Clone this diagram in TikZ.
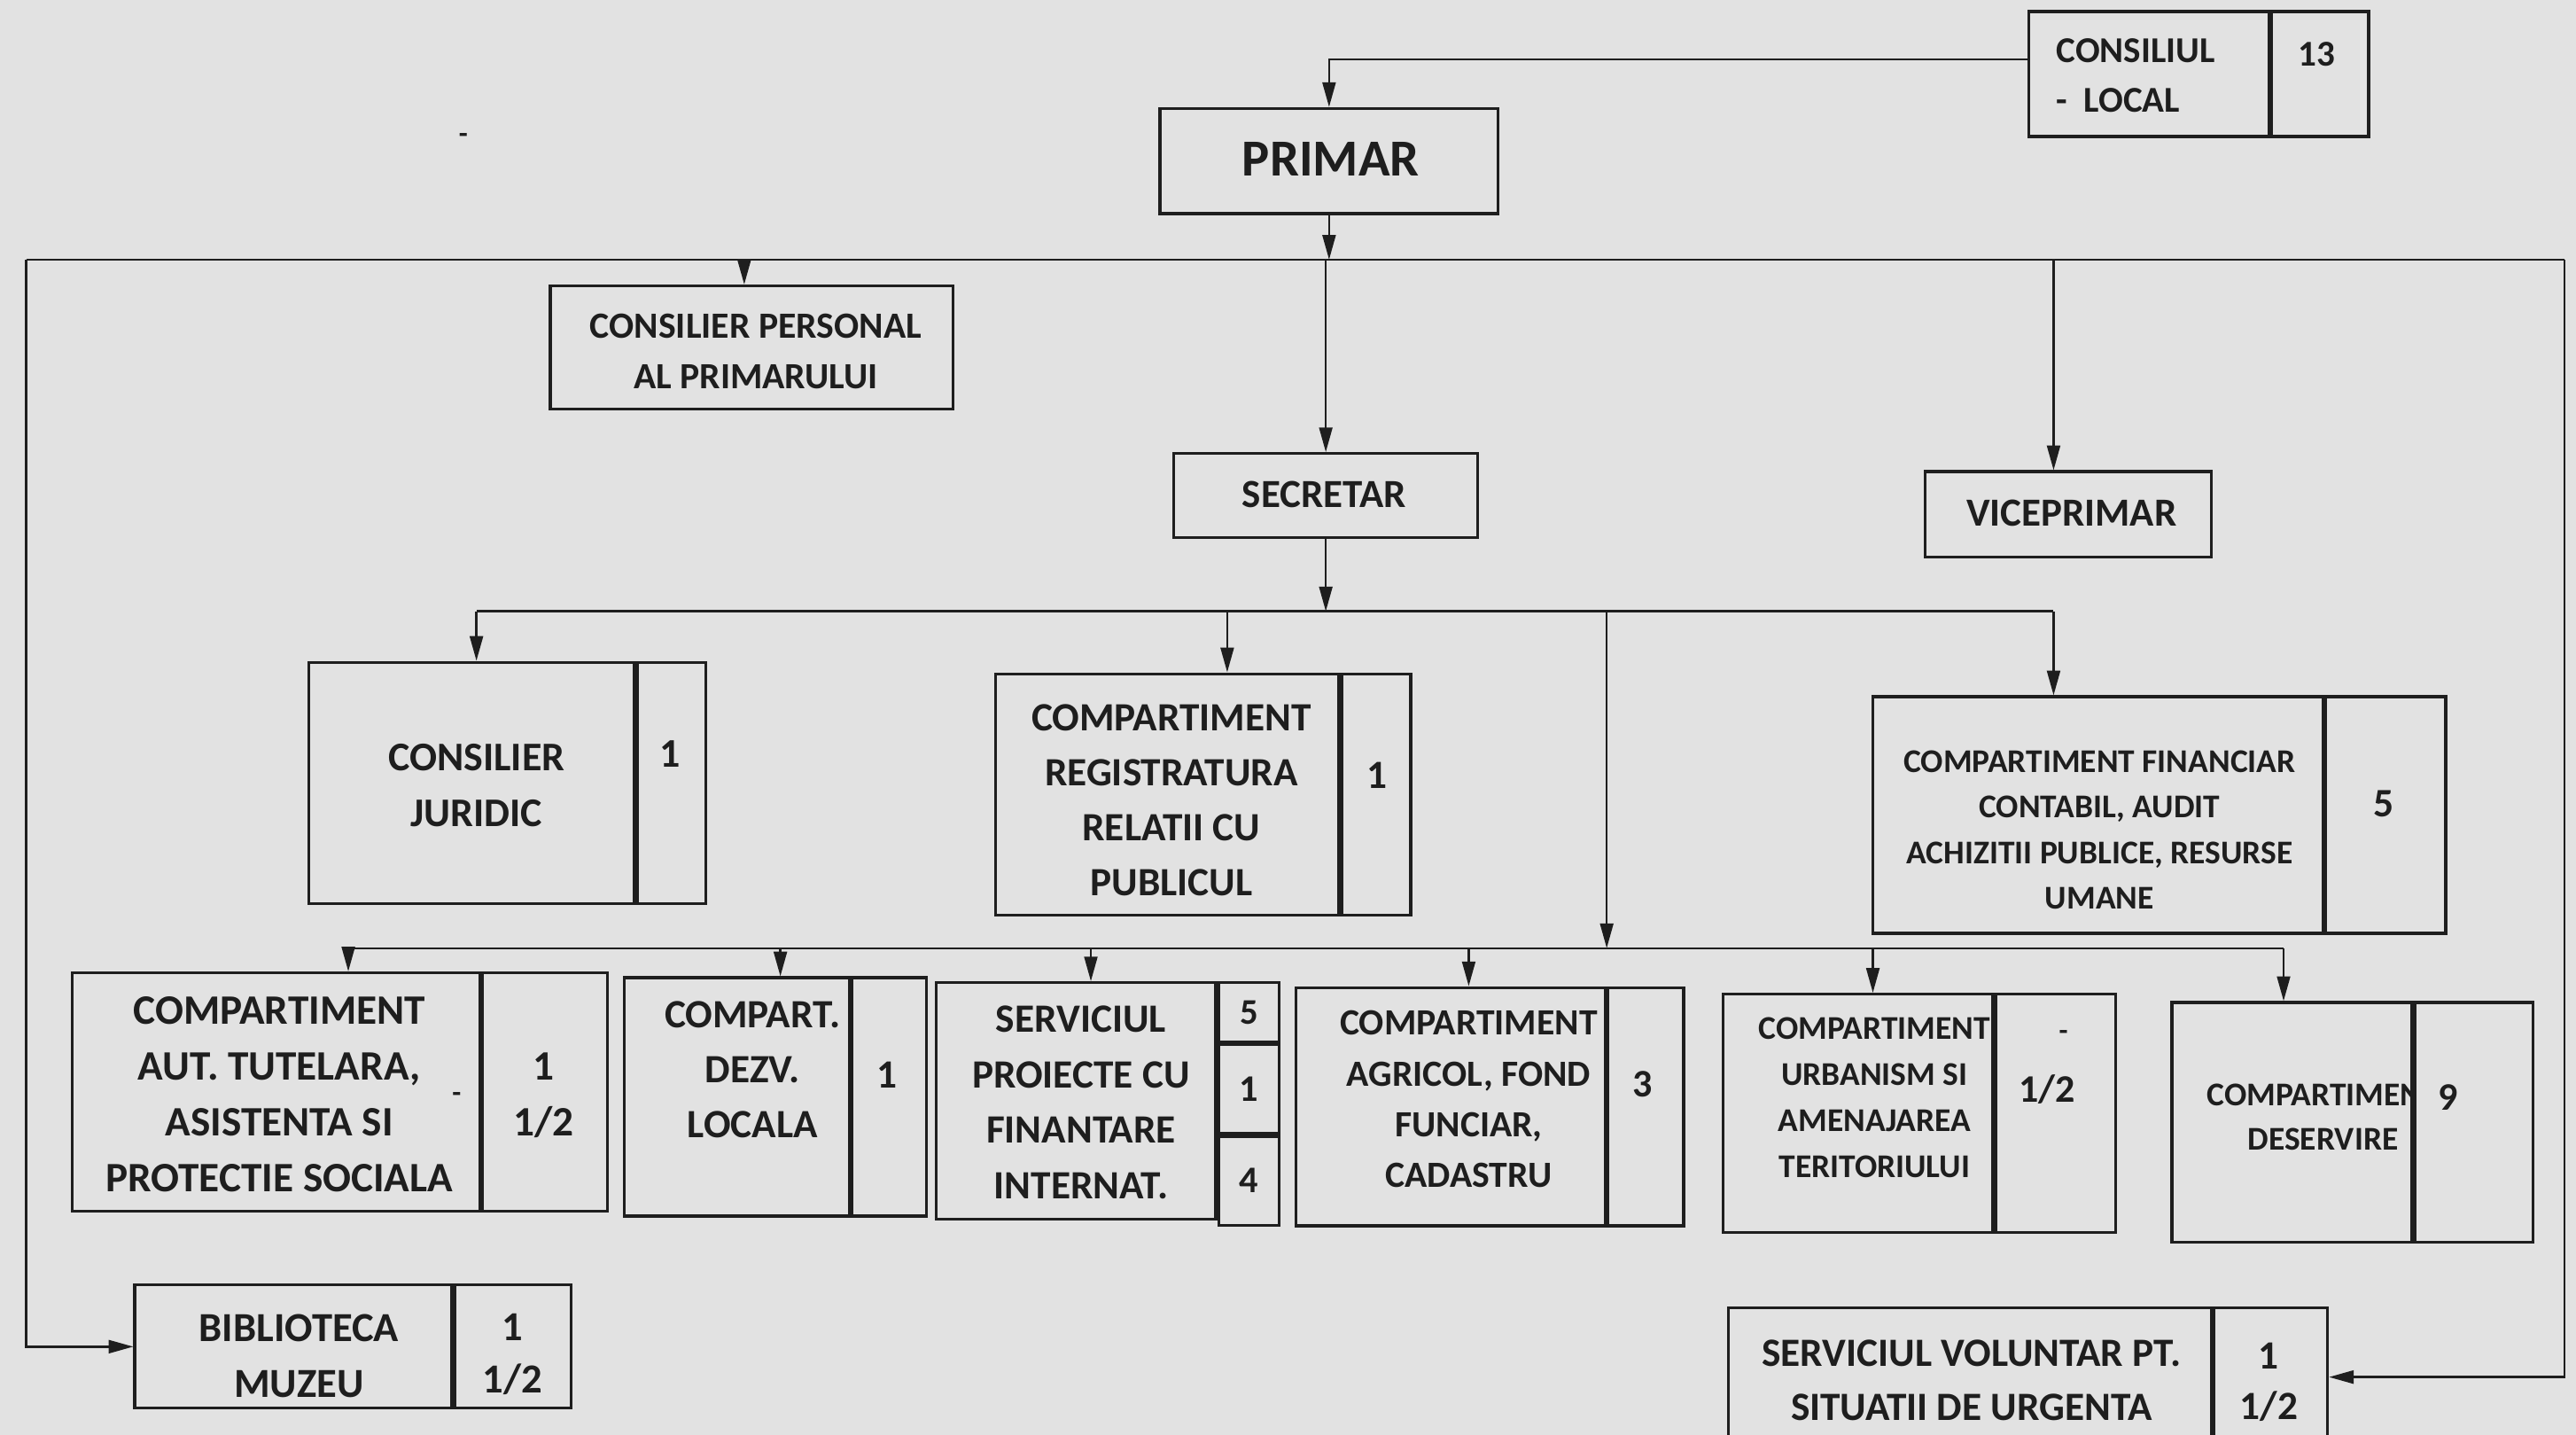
\documentclass[tikz,border=0pt]{standalone}
\usepackage{fontspec}
\setmainfont{Carlito}
\usetikzlibrary{arrows.meta,calc}
\definecolor{paper}{HTML}{E2E2E2}
\definecolor{ink}{HTML}{1E1E1E}
\tikzset{
  cell/.style={draw=ink, line width=1pt, inner sep=0pt, rectangle},
  sz/.style n args={2}{minimum width=#1*0.02cm, minimum height=#2*0.02cm},
  txt/.style={text=ink, align=center, inner sep=0pt},
  conn/.style={draw=ink, line width=0.75pt},
  arr/.style={conn, -{Triangle[length=0.3cm,width=0.16cm]}},
}
\newcommand\fsz[2]{\fontsize{#1}{#2}\selectfont\bfseries}
\begin{document}
\begin{tikzpicture}[x=0.02cm,y=-0.02cm]
\clip (0,0) rectangle (1568,873);
\fill[paper] (0,0) rectangle (1568,873);

% ---------- boxes ----------
\node[cell, sz={146}{76}] (consiliu) at (1308,45) {};
\node[cell, sz={59}{76}, anchor=west] (consiliu-n) at (consiliu.east) {};
\node[cell, sz={206}{64}] (primar) at (809,98) {};
\node[cell, sz={245}{75}] (cpers) at (457.5,211.5) {};
\node[cell, sz={185}{51}] (secretar) at (807,301.5) {};
\node[cell, sz={174}{52}] (vice) at (1259,313) {};

\node[cell, sz={198}{147}] (juridic) at (287,476.5) {};
\node[cell, sz={42}{147}, anchor=west] (juridic-n) at (juridic.east) {};
\node[cell, sz={209}{147}] (registr) at (710.5,483.5) {};
\node[cell, sz={42}{147}, anchor=west] (registr-n) at (registr.east) {};
\node[cell, sz={274}{144}] (financ) at (1277,496) {};
\node[cell, sz={73}{144}, anchor=west] (financ-n) at (financ.east) {};

\node[cell, sz={248}{145}] (aut) at (168,664.5) {};
\node[cell, sz={76}{145}, anchor=west] (aut-n) at (aut.east) {};
\node[cell, sz={137}{145}] (dezv) at (448.5,667.5) {};
\node[cell, sz={45}{145}, anchor=west] (dezv-n) at (dezv.east) {};
\node[cell, sz={170}{144}] (sproj) at (655,670) {};
\node[cell, sz={37}{36}, anchor=north west] (sproj-a) at (sproj.north east) {};
\node[cell, sz={37}{54}, anchor=north] (sproj-b) at (sproj-a.south) {};
\node[cell, sz={37}{54}, anchor=north] (sproj-c) at (sproj-b.south) {};
\node[cell, sz={188}{145}] (agri) at (883,673.5) {};
\node[cell, sz={46}{145}, anchor=west] (agri-n) at (agri.east) {};
\node[cell, sz={164}{145}] (urb) at (1131,677.5) {};
\node[cell, sz={73}{145}, anchor=west] (urb-n) at (urb.east) {};
\node[cell, sz={146}{146}] (deserv) at (1395,683) {};
\node[cell, sz={72}{146}, anchor=west] (deserv-n) at (deserv.east) {};

\node[cell, sz={193}{75}] (biblio) at (178.5,819.5) {};
\node[cell, sz={71}{75}, anchor=west] (biblio-n) at (biblio.east) {};
\node[cell, sz={294}{84}] (volunt) at (1199,838) {};
\node[cell, sz={69}{84}, anchor=west] (volunt-n) at (volunt.east) {};

% ---------- texts ----------
\node[txt, align=left, font=\fsz{12.6}{17}] (t-consiliu) at (1300,46) {CONSILIUL\\- \ LOCAL};
\node[txt, font=\fsz{12.6}{17}] (n-consiliu) at (1410,33) {13};
\node[txt, font=\fsz{18}{22}] (t-primar) at (810,97) {PRIMAR};
\node[txt, font=\fsz{12.8}{17.6}] (t-cpers) at (460,214) {CONSILIER PERSONAL\\AL PRIMARULUI};
\node[txt, font=\fsz{13.8}{18}] (t-secretar) at (806,301) {SECRETAR};
\node[txt, font=\fsz{13.8}{18}] (t-vice) at (1261,312) {VICEPRIMAR};

\node[txt, font=\fsz{14.1}{19.3}] (t-juridic) at (290,478) {CONSILIER\\JURIDIC};
\node[txt, font=\fsz{14.1}{19.3}] (n-juridic) at (408,459) {1};
\node[txt, font=\fsz{13.9}{19}] (t-registr) at (713,487) {COMPARTIMENT\\REGISTRATURA\\RELATII CU\\PUBLICUL};
\node[txt, font=\fsz{13.9}{19}] (n-registr) at (838,472) {1};
\node[txt, font=\fsz{11.5}{15.8}] (t-financ) at (1278,505) {COMPARTIMENT FINANCIAR\\CONTABIL, AUDIT\\ACHIZITII PUBLICE, RESURSE\\UMANE};
\node[txt, font=\fsz{14}{19}] (n-financ) at (1451,489) {5};

\node[txt, font=\fsz{14.5}{19.3}] (t-aut) at (170,666) {COMPARTIMENT\\AUT. TUTELARA,\\ASISTENTA SI\\PROTECTIE SOCIALA};
\node[txt, font=\fsz{14.5}{19.3}] (n-aut) at (331,666.5) {1\\1/2};
\node[txt, font=\fsz{10}{12}] (d-aut) at (278,668) {-};
\node[txt, font=\fsz{13.9}{19}] (t-dezv) at (458,651) {COMPART.\\DEZV.\\LOCALA};
\node[txt, font=\fsz{13.9}{19}] (n-dezv) at (540,654) {1};
\node[txt, font=\fsz{13.9}{19.2}] (t-sproj) at (658,671) {SERVICIUL\\PROIECTE CU\\FINANTARE\\INTERNAT.};
\node[txt, font=\fsz{12.5}{15}] (n-sproj-a) at (sproj-a) {5};
\node[txt, font=\fsz{13}{15}] (n-sproj-b) at (sproj-b) {1};
\node[txt, font=\fsz{13}{15}] (n-sproj-c) at (sproj-c) {4};
\node[txt, font=\fsz{12.8}{17.6}] (t-agri) at (894,669) {COMPARTIMENT\\AGRICOL, FOND\\FUNCIAR,\\CADASTRU};
\node[txt, font=\fsz{13.5}{17.6}] (n-agri) at (1000,660) {3};
\node[txt, font=\fsz{11.5}{15.9}] (t-urb) at (1141,668) {COMPARTIMENT\\URBANISM SI\\AMENAJAREA\\TERITORIULUI};
\node[txt, font=\fsz{10}{12}] (d-urb) at (1256,630) {-};
\node[txt, font=\fsz{13.5}{17}] (n-urb) at (1246,663) {1/2};
\begin{scope}
  \clip (deserv.north west) rectangle (deserv.south east);
  \node[txt, font=\fsz{11.5}{15.4}] (t-deserv) at (1414,680) {COMPARTIMENT\\DESERVIRE};
\end{scope}
\node[txt, font=\fsz{13.5}{17}] (n-deserv) at (1490,668) {9};

\node[txt, font=\fsz{14.3}{19.3}] (t-biblio) at (182,825) {BIBLIOTECA\\MUZEU};
\node[txt, font=\fsz{14.3}{18.2}] (n-biblio) at (312,824) {1\\1/2};
\node[txt, font=\fsz{13.9}{18.8}] (t-volunt) at (1200,840) {SERVICIUL VOLUNTAR PT.\\SITUATII DE URGENTA};
\node[txt, font=\fsz{13.9}{17.6}] (n-volunt) at (1381,841) {1\\1/2};

\node[txt, font=\fsz{10}{12}] (speck) at (282,84) {-};

% ---------- connectors ----------
\coordinate (busL) at (16,158);
\coordinate (busR) at (1561,158);
\coordinate (b2L) at (290,372);
\coordinate (b2R) at (1250,372);
\coordinate (b3L) at (212,577);
\coordinate (b3R) at (1390,577);

\draw[arr] ($(consiliu.west)+(0,-9)$) -| (primar.north);
\draw[conn] (busL) -- (busR);
\draw[arr] (primar.south) -- (primar.south |- busL);
\draw[arr] (secretar.north |- busL) -- (secretar.north);
\draw[arr] (busL) |- (biblio.west);
\draw[arr] (busR) |- (volunt-n.east);
\coordinate (cp) at (453,158);
\draw[arr] (cp) -- (cp |- cpers.north);
\coordinate (vp) at (1250,158);
\draw[arr] (vp) -- (vp |- vice.north);

\draw[arr] (secretar.south) -- (secretar.south |- b2L);
\draw[conn] (b2L) -- (b2R);
\draw[arr] (b2L) -- (b2L |- juridic.north);
\coordinate (rg) at (747,372);
\draw[arr] (rg) -- (rg |- registr.north);
\draw[arr] (b2R) -- (b2R |- financ.north);
\coordinate (md) at (978,372);
\draw[arr] (md) -- (md |- b3L);

\draw[conn] (b3L) -- (b3R);
\draw[arr] (b3L) -- (b3L |- aut.north);
\coordinate (dz) at (475,577);
\draw[arr] (dz) -- (dz |- dezv.north);
\coordinate (sp) at (664,577);
\draw[arr] (sp) -- (sp |- sproj.north);
\coordinate (ag) at (894,577);
\draw[arr] (ag) -- (ag |- agri.north);
\coordinate (ub) at (1140,577);
\draw[arr] (ub) -- (ub |- urb.north);
\draw[arr] (b3R) -- (b3R |- deserv.north);
\end{tikzpicture}
\end{document}
